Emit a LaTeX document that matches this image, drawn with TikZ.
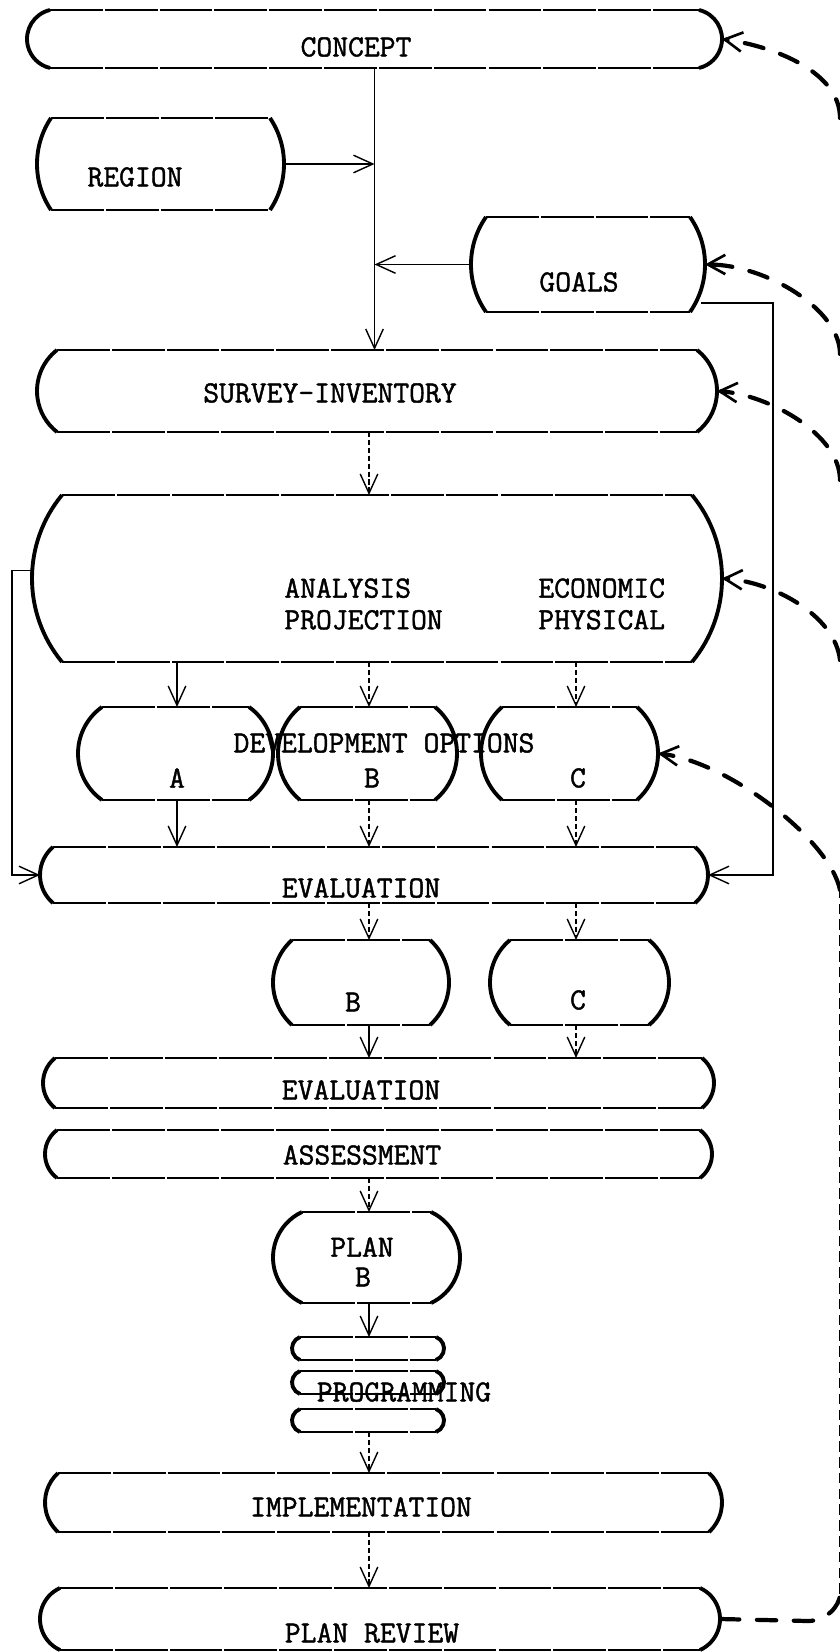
\documentclass[tikz,border=0pt]{standalone}
\usepackage{fontspec}
\newfontfamily\typer{Latin Modern Mono}[FakeBold=1.4]
\usetikzlibrary{arrows.meta,calc}
\tikzset{
  box/.style={rectangle, inner sep=0pt, outer sep=0pt},
  rim/.style={line width=0.9pt, dash pattern=on 30pt off 1.2pt},
  side/.style={line width=2.2pt},
  lbl/.style={font={\fontsize{17.5}{18}\typer}, inner sep=0pt},
  flow/.style={line width=0.8pt, -{Straight Barb[length=11pt,width=10pt]}},
  dflow/.style={flow, dash pattern=on 3pt off 1.5pt},
  fb/.style={line width=2.4pt, line cap=round, dash pattern=on 11pt off 10pt},
  fbarrow/.style={fb, -{Straight Barb[length=10pt,width=11pt,line width=1.5pt]}},
  trunk/.style={line width=1pt, dash pattern=on 6pt off 3pt},
}
\begin{document}
\begin{tikzpicture}[x=0.02cm, y=-0.02cm]
\useasboundingbox (0,0) rectangle (839,1652);

% boxes: name/x/y/width/height/bulge
\foreach \nm/\x/\y/\w/\h/\bul in {
    concept/374.5/39/695/58/23, region/160.5/164/247/92/14, goals/588/264.5/234/95/15,
    survey/377/391/680/82/20, analysis/377/578.5/690/167/30,
    optA/175.5/753.5/195/93/24, optB/367.5/753.5/179/93/22, optC/569.5/753.5/177/93/21,
    eval1/374/875/668/56/13, selB/361/982.5/176/85/19, selC/579.5/982.5/179/85/20,
    eval2/378.5/1083/671/50/12, assess/378.5/1154/667/48/12, plan/366.5/1257.5/187/91/29,
    prog1/368/1348.5/152/23/8, prog2/368/1382.5/152/23/8, prog3/368/1420.5/152/23/8,
    implement/383.5/1502.5/677/59/13, review/380/1619/680/62/20}
{
    \node[box, minimum width=\w*0.02cm, minimum height=\h*0.02cm] (\nm) at (\x,\y) {};
    \pgfmathsetmacro{\rad}{(\h/\bul)*\h/8+\bul/2}
    \pgfmathsetmacro{\ang}{asin(\h/(2*\rad))}
    \draw[rim] (\x-\w/2+\bul,\y-\h/2) -- (\x+\w/2-\bul,\y-\h/2);
    \draw[rim] (\x-\w/2+\bul,\y+\h/2) -- (\x+\w/2-\bul,\y+\h/2);
    \draw[side] (\x-\w/2+\bul,\y-\h/2) arc[start angle=180-\ang, end angle=180+\ang, radius=\rad*0.02cm];
    \draw[side] (\x+\w/2-\bul,\y-\h/2) arc[start angle=\ang, end angle=-\ang, radius=\rad*0.02cm];
}

% texts
\node[lbl] (lconcept) at (356,47) {CONCEPT};
\node[lbl] (lregion) at (135,177) {REGION};
\node[lbl] (lgoals) at (579,282) {GOALS};
\node[lbl] (lsurvey) at (330,393) {SURVEY-INVENTORY};
\node[lbl, align=left, anchor=west] (lanalysis) at (284,604) {ANALYSIS\\PROJECTION};
\node[lbl, align=left, anchor=west] (leconomic) at (538,604) {ECONOMIC\\PHYSICAL};
\node[lbl] (loptions) at (384,743) {DEVELOPMENT OPTIONS};
\node[lbl] (lA) at (177,778) {A};
\node[lbl] (lB) at (372,778) {B};
\node[lbl] (lC) at (578,778) {C};
\node[lbl] (leval1) at (361,888) {EVALUATION};
\node[lbl] (lselB) at (353,1002) {B};
\node[lbl] (lselC) at (578,1000) {C};
\node[lbl] (leval2) at (361,1090) {EVALUATION};
\node[lbl] (lassess) at (362,1155) {ASSESSMENT};
\node[lbl] (lplan) at (362,1247) {PLAN};
\node[lbl] (lplanB) at (363,1277) {B};
\node[lbl] (lprog) at (404,1392) {PROGRAMMING};
\node[lbl] (limplement) at (361,1507) {IMPLEMENTATION};
\node[lbl] (lreview) at (372,1633) {PLAN REVIEW};

% main flow
\coordinate (colA) at (177,0); \coordinate (colB) at (369,0); \coordinate (colC) at (576,0);
\draw[flow] (concept.south) -- (concept.south |- survey.north);
\draw[flow] (region.east) -- (region.east -| concept.south);
\draw[flow] (goals.west) -- (goals.west -| concept.south);
\draw[flow] ($(goals.south east)+(-4,-9)$) -- ++(72,0) |- (eval1.east);
\draw[flow] ($(analysis.west)+(0,-8)$) -- ++(-20,0) |- (eval1.west);
\draw[dflow] (survey.south -| colB) -- (analysis.north -| colB);
\foreach \c/\o/\s in {colA/optA/flow, colB/optB/dflow, colC/optC/dflow} {
    \draw[\s] (analysis.south -| \c) -- (\o.north -| \c);
    \draw[\s] (\o.south -| \c) -- (eval1.north -| \c);
}
\draw[dflow] (eval1.south -| colB) -- (selB.north -| colB);
\draw[dflow] (eval1.south -| colC) -- (selC.north -| colC);
\draw[flow] (selB.south -| colB) -- (eval2.north -| colB);
\draw[dflow] (selC.south -| colC) -- (eval2.north -| colC);
\draw[dflow] (assess.south -| colB) -- (plan.north -| colB);
\draw[flow] (plan.south -| colB) -- (prog1.north -| colB);
\draw[dflow] (prog3.south -| colB) -- (implement.north -| colB);
\draw[dflow] (implement.south -| colB) -- (review.north -| colB);

% feedback from the review, running off the right edge
\coordinate (fb0) at (840,1594);
\coordinate (fb1) at (840,118); \coordinate (fb2) at (840,354); \coordinate (fb3) at (840,480);
\coordinate (fb4) at (840,660); \coordinate (fb5) at (840,890);
\draw[trunk] (fb0) -- (fb5);
\draw[fb] (review.east) -- ++(88,2) .. controls +(18,0) and +(0,12) .. (fb0);
\draw[fbarrow] (fb1) .. controls +(0,-45) and +(55,8) .. (concept.east);
\draw[fbarrow] (fb2) .. controls +(0,-45) and +(60,0) .. (goals.east);
\draw[fbarrow] (fb3) .. controls +(0,-45) and +(53,4) .. (survey.east);
\draw[fbarrow] (fb4) .. controls +(-5,-45) and +(50,3) .. (analysis.east);
\draw[fbarrow] (fb5) .. controls +(-10,-50) and +(70,8) .. (optC.east);
\end{tikzpicture}
\end{document}
